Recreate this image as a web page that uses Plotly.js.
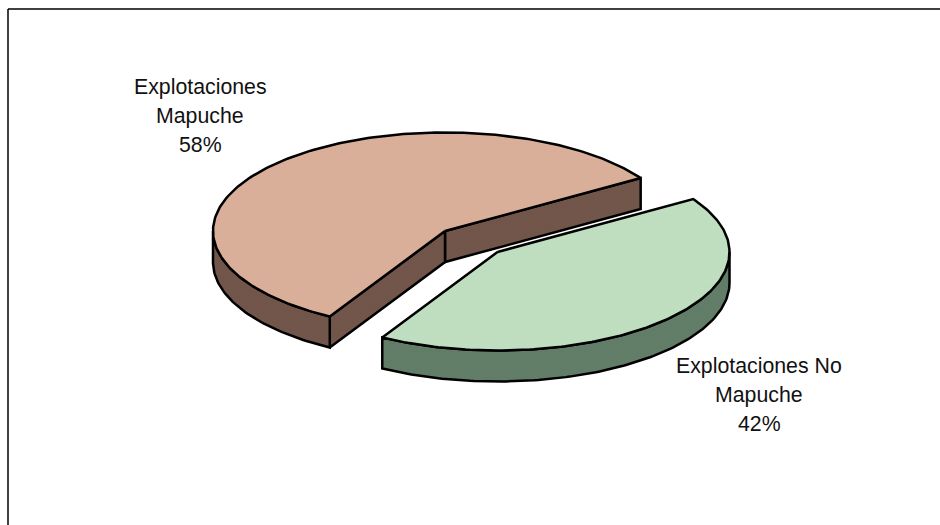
<!DOCTYPE html>
<html>
<head>
<meta charset="utf-8">
<script src="https://cdn.plot.ly/plotly-3.0.1.min.js"></script>
<style>html,body{margin:0;padding:0;background:#fff}#chart{width:940px;height:525px}</style>
</head>
<body>
<div id="chart"></div>
<script>
// Data
const categories = ["Explotaciones Mapuche", "Explotaciones No Mapuche"];
const shares = [57.7, 42.3];
const labelLines = [["Explotaciones", "Mapuche"], ["Explotaciones No", "Mapuche"]];

// Styling / projection of the tilted pie (axis units equal page pixels)
const topColors = ["#DDB39E", "#C4E2C5"];
const wallColors = ["#75594D", "#65806B"];
const patternFg = ["#CFA28D", "#B0D3B3"];
const wallPatternFg = ["#64493F", "#56705D"];
const centers = [[445, 231], [497.5, 252]];
const radiusX = 232, radiusY = 98.5, depth = 31;
const startAngle = 32.5;
const labelCenters = [[200, [87, 116, 145]], [759, [366, 395, 424]]];

const total = shares.reduce((a, b) => a + b, 0);
const sweep = shares.map(v => v / total * 360);

function pt(c, deg, dy) {
  const r = deg * Math.PI / 180;
  return [c[0] + radiusX * Math.cos(r), c[1] - radiusY * Math.sin(r) + (dy || 0)];
}
function arc(c, a0, a1, dy) {
  const n = Math.max(2, Math.ceil(Math.abs(a1 - a0)));
  const out = [];
  for (let i = 0; i <= n; i++) out.push(pt(c, a0 + (a1 - a0) * i / n, dy));
  return out;
}
function poly(points, fill, fg) {
  const closed = points.concat([points[0]]);
  return {
    type: "scatter", mode: "lines", hoverinfo: "skip", showlegend: false,
    x: closed.map(p => p[0]), y: closed.map(p => p[1]),
    fill: "toself", fillcolor: fill,
    fillpattern: {shape: ".", size: 2, solidity: 0.3, fgcolor: fg, bgcolor: fill, fillmode: "replace"},
    line: {color: "#000000", width: 2.5, shape: "linear"}
  };
}

const traces = [];
// Slice 0 goes counter-clockwise from the start angle, slice 1 clockwise.
const a0 = startAngle, a1 = startAngle + sweep[0], b1 = startAngle - sweep[1];

// Mapuche: walls then top
const cm = centers[0];
traces.push(poly([cm, pt(cm, a0), pt(cm, a0, depth), [cm[0], cm[1] + depth]], wallColors[0], wallPatternFg[0]));
traces.push(poly([cm, pt(cm, a1), pt(cm, a1, depth), [cm[0], cm[1] + depth]], wallColors[0], wallPatternFg[0]));
traces.push(poly(arc(cm, 180, a1, 0).concat(arc(cm, a1, 180, depth)), wallColors[0], wallPatternFg[0]));
traces.push(poly([cm].concat(arc(cm, a0, a1, 0)), topColors[0], patternFg[0]));

// No Mapuche: wall then top
const cn = centers[1];
traces.push(poly(arc(cn, 0, b1, 0).concat(arc(cn, b1, 0, depth)), wallColors[1], wallPatternFg[1]));
traces.push(poly([cn].concat(arc(cn, a0, b1, 0)), topColors[1], patternFg[1]));

const annotations = [];
categories.forEach((cat, i) => {
  const lines = labelLines[i].concat([Math.round(shares[i] / total * 100) + "%"]);
  lines.forEach((t, j) => annotations.push({
    x: labelCenters[i][0], y: labelCenters[i][1][j], text: t,
    xref: "x", yref: "y", showarrow: false, xanchor: "center", yanchor: "middle",
    font: {family: "Liberation Sans, Arial, sans-serif", size: 21.3, color: "#111111"}
  }));
});

const frameLine = {color: "#000000", width: 1.5};
const layout = {
  width: 940, height: 525,
  margin: {l: 0, r: 0, t: 0, b: 0},
  paper_bgcolor: "#ffffff", plot_bgcolor: "#ffffff",
  xaxis: {range: [0, 940], visible: false, fixedrange: true},
  yaxis: {range: [525, 0], visible: false, fixedrange: true},
  showlegend: false,
  annotations,
  shapes: [
    {type: "line", xref: "x", yref: "y", x0: 8, x1: 8, y0: 9, y1: 525, line: frameLine},
    {type: "line", xref: "x", yref: "y", x0: 8, x1: 940, y0: 9, y1: 9, line: frameLine}
  ]
};
Plotly.newPlot("chart", traces, layout, {displayModeBar: false, staticPlot: true});
</script>
</body>
</html>
